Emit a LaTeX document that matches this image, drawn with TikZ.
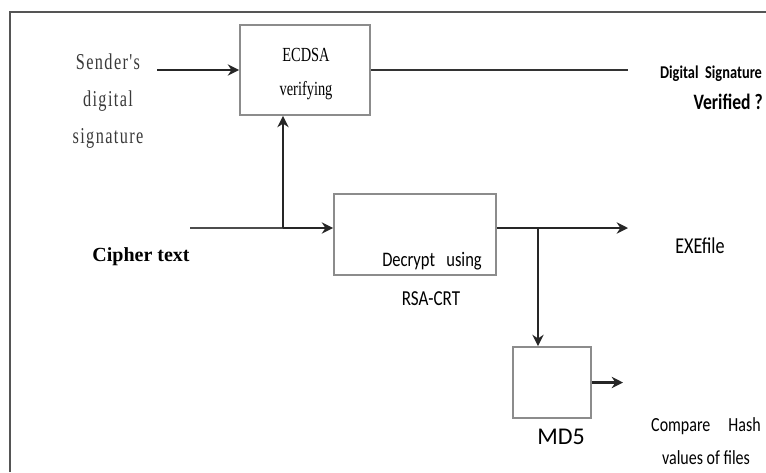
\documentclass[tikz,border=0pt]{standalone}
\usepackage{fontspec}
\setmainfont{Liberation Serif}
\newfontfamily\condserif[FakeStretch=0.72]{Liberation Serif}
\newfontfamily\condsans[FakeStretch=0.8]{Carlito}
\newfontfamily\calibri{Carlito}
\usetikzlibrary{arrows.meta,positioning}
\definecolor{frame}{HTML}{555555}
\definecolor{boxline}{HTML}{8C8C8C}
\definecolor{softtext}{HTML}{3A3A3A}

\begin{document}
\begin{tikzpicture}[x=0.75pt,y=-0.75pt,
  box/.style={draw=boxline,line width=1.4pt,minimum width=#1,inner sep=0pt},
  flow/.style={-{Stealth[length=8.5pt,width=8.5pt]},line width=2pt,black!85},
  every node/.style={inner sep=0pt},
]
  \useasboundingbox (0,0) rectangle (766,472);

  % outer frame
  \draw[frame,line width=1.6pt] (10,472) -- (10,12) -- (766,12);

  % ECDSA verification
  \node[box=97.5pt,minimum height=67.5pt] (ecdsa) at (305,70) {};
  \node[font=\condserif\fontsize{15}{25}\selectfont,align=center] (ecdsatxt) at (306,74) {ECDSA\\verifying};

  % sender's signature
  \node[font=\condserif\fontsize{17}{28}\selectfont\addfontfeature{LetterSpace=6},softtext,align=center] (sender) at (108,101) {Sender's\\digital\\signature};
  \coordinate (sndout) at (157,70);
  \draw[flow] (sndout) -- (ecdsa.west);

  % verification result
  \coordinate (verout) at (628,70);
  \draw[line width=2pt,black!80] (ecdsa.east) -- (verout);
  \node[font=\condsans\bfseries\fontsize{13.5}{15}\selectfont] (digsig) at (711,74) {Digital\ \ Signature};
  \node[font=\condsans\bfseries\fontsize{16.5}{18}\selectfont,anchor=east] (verified) at (763,102) {Verified ?};

  % cipher text input
  \node[font=\bfseries\fontsize{15}{17}\selectfont] (cipher) at (141,257) {Cipher text};
  \coordinate (cin) at (190,228);
  \coordinate (split) at (283,228);

  % RSA-CRT decryption
  \node[box=121.5pt,minimum height=60.75pt] (dec) at (415,234.5) {};
  \node[font=\condsans\fontsize{15.5}{17}\selectfont] (dectxt) at (432,261) {Decrypt\ \ \ using};
  \node[font=\condsans\fontsize{16}{18}\selectfont] (rsatxt) at (431,299) {RSA-CRT};

  \draw[line width=0.9pt,black!70] (cin) -- (split);
  \draw[flow] (split) -- (split -| dec.west);
  \draw[flow] (split) -- (split |- ecdsa.south);

  % decrypted output
  \coordinate (tap) at (538,228);
  \coordinate (exeout) at (628,228);
  \draw[flow] (split -| dec.east) -- (exeout);
  \node[font=\condsans\fontsize{17}{19}\selectfont] (exe) at (700,246) {EXEfile};

  % MD5 hash
  \node[box=58.5pt,minimum height=53.25pt] (md5) at (552,382.5) {};
  \node[font=\calibri\fontsize{18}{20}\selectfont] (md5txt) at (561,437) {MD5};
  \draw[flow] (tap) -- (tap |- md5.north);
  \coordinate (cmpout) at (623,382.5);
  \draw[flow] (md5.east) -- (cmpout);
  \node[font=\condsans\fontsize{15}{25}\selectfont,align=center] (compare) at (706,441) {Compare\ \ \ \ \ Hash\\values of files};
\end{tikzpicture}
\end{document}
